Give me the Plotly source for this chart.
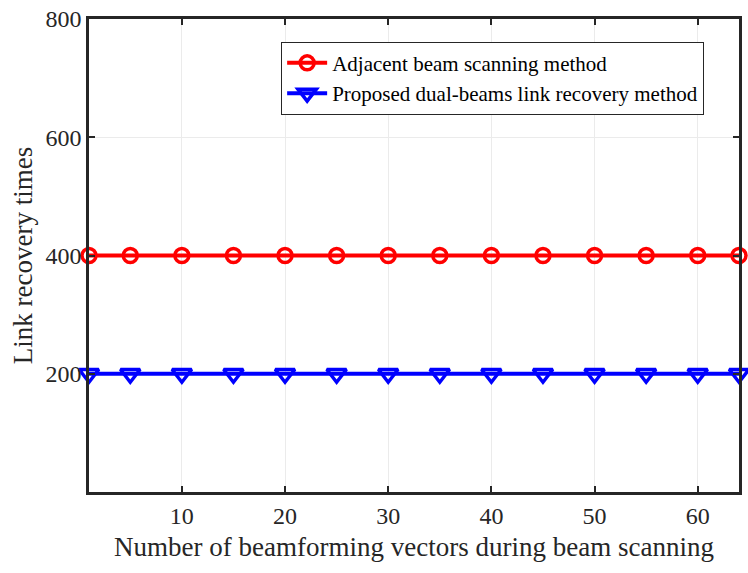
import plotly.graph_objects as go

# Number of beamforming vectors used during scanning
beam_vectors = [1, 5, 10, 15, 20, 25, 30, 35, 40, 45, 50, 55, 60, 64]
# Link recovery times for each method
adjacent_times = [400] * len(beam_vectors)
proposed_times = [200] * len(beam_vectors)

x_ticks = [10, 20, 30, 40, 50, 60]
y_ticks = [200, 400, 600, 800]

font_family = "Liberation Serif, Times New Roman, serif"

fig = go.Figure()
fig.add_trace(go.Scatter(
    x=beam_vectors, y=adjacent_times, mode="lines+markers",
    name="Adjacent beam scanning method",
    line=dict(color="#ff0000", width=4),
    marker=dict(symbol="circle-open", size=14, color="#ff0000",
                line=dict(width=3.5, color="#ff0000")),
    cliponaxis=False,
))
fig.add_trace(go.Scatter(
    x=beam_vectors, y=proposed_times, mode="lines+markers",
    name="Proposed dual-beams link recovery method",
    line=dict(color="#0000ff", width=4),
    marker=dict(symbol="triangle-down-open", size=17, color="#0000ff",
                line=dict(width=3.5, color="#0000ff")),
    cliponaxis=False,
))

axis_common = dict(
    showline=True, linecolor="#262626", linewidth=2.5, mirror="ticks",
    ticks="inside", ticklen=6, tickwidth=2, tickcolor="#262626",
    showgrid=True, gridcolor="#ebebeb", gridwidth=1,
    zeroline=False,
    tickfont=dict(family=font_family, size=24, color="#262626"),
)

fig.update_layout(
    width=748, height=573,
    margin=dict(l=89, r=6, t=14, b=81),
    paper_bgcolor="white", plot_bgcolor="white",
    font=dict(family=font_family, color="#262626"),
    xaxis=dict(range=[1, 64], tickvals=x_ticks, **axis_common,
               title=dict(text="Number of beamforming vectors during beam scanning",
                          font=dict(family=font_family, size=27, color="#262626"),
                          standoff=10)),
    yaxis=dict(range=[0, 800], tickvals=y_ticks, **axis_common,
               title=dict(text="Link recovery times",
                          font=dict(family=font_family, size=27, color="#262626"),
                          standoff=6)),
    legend=dict(
        x=0.2956, y=0.952, xanchor="left", yanchor="top",
        bgcolor="white", bordercolor="#262626", borderwidth=1,
        font=dict(family=font_family, size=21, color="black"),
        tracegroupgap=0, itemwidth=40,
    ),
    showlegend=True,
)

fig.write_html("out.html")
